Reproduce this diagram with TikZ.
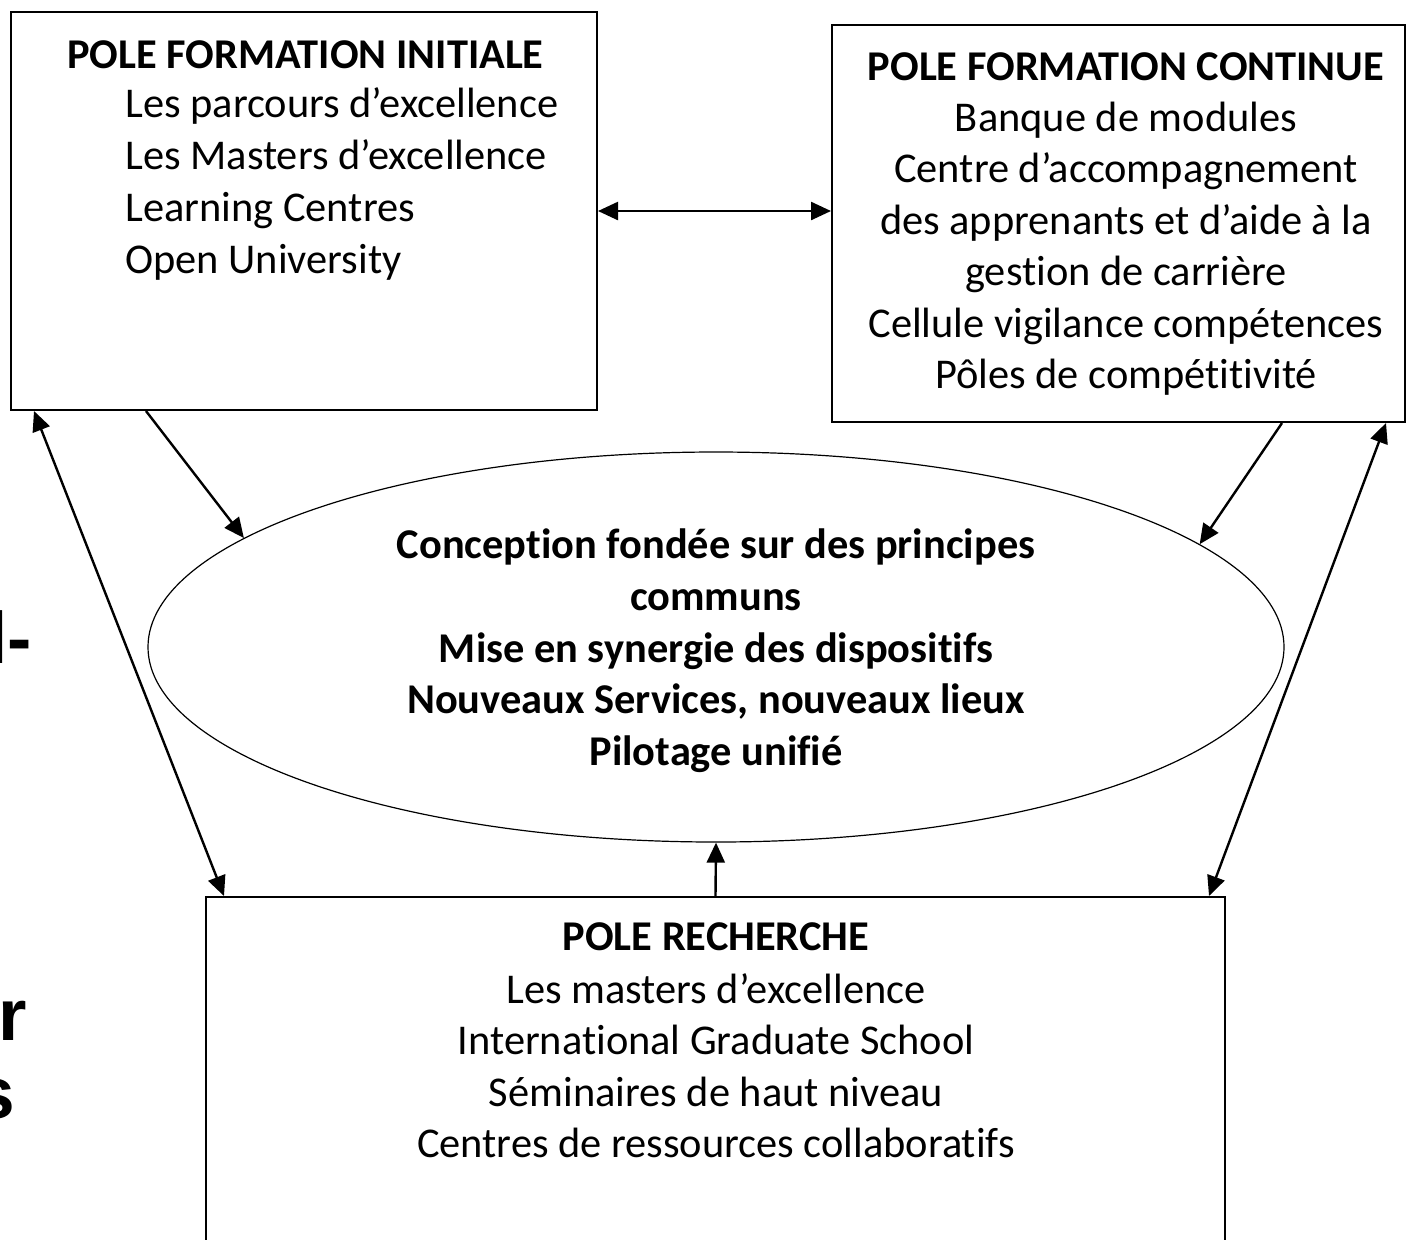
\documentclass[tikz,border=0pt]{standalone}
\usepackage{fontspec}
\setmainfont{Carlito}[Ligatures=NoCommon]
\newfontfamily\arialbd{Liberation Sans}[BoldFont={* Bold}]
\usetikzlibrary{arrows.meta,shapes.geometric}

\begin{document}
\begin{tikzpicture}[x=0.5pt, y=-0.5pt,
      every node/.style = {font=\fontsize{21.2pt}{26pt}\selectfont, inner sep=0pt},
      head/.style = {font=\fontsize{21.2pt}{26pt}\selectfont\bfseries},
      polebox/.style = {draw, line width=1pt, rectangle},
      hub/.style = {draw, line width=0.6pt, ellipse},
      line/.style = {line width=1.2pt, -{Triangle[length=10pt,width=9pt]}},
      biline/.style = {line width=1.2pt, {Triangle[length=10pt,width=9pt]}-{Triangle[length=10pt,width=9pt]}},
      bit/.style = {font=\arialbd\bfseries\fontsize{36.5pt}{40pt}\selectfont, anchor=base east}]
  \useasboundingbox (0,0) rectangle (1407,1239);

  % the three poles and the hub
  \node[polebox, minimum width=293pt, minimum height=199pt] (fi) at (304,211) {};
  \node[polebox, minimum width=286.5pt, minimum height=198.5pt] (fc) at (1118.5,223.5) {};
  \node[polebox, minimum width=509.5pt, minimum height=185pt] (rech) at (715.5,1082) {};
  \node[hub, minimum width=568pt, minimum height=195pt] (ell) at (716,647) {};

  % pole formation initiale
  \node[head, anchor=base] (fi0) at (305.5,68) {POLE FORMATION INITIALE};
  \node[anchor=base west] (fi1) at (125,117) {Les parcours d’excellence};
  \node[anchor=base west] (fi2) at (125,169) {Les Masters d’excellence};
  \node[anchor=base west] (fi3) at (125,221) {Learning Centres};
  \node[anchor=base west] (fi4) at (125,273) {Open University};

  % pole formation continue
  \node[head, anchor=base] (fc0) at (1126,80) {POLE FORMATION CONTINUE};
  \node[anchor=base] (fc1) at (1126,131.4) {Banque de modules};
  \node[anchor=base] (fc2) at (1126,182.8) {Centre d’accompagnement};
  \node[anchor=base] (fc3) at (1126,234.2) {des apprenants et d’aide à la};
  \node[anchor=base] (fc4) at (1126,285.6) {gestion de carrière};
  \node[anchor=base] (fc5) at (1126,337) {Cellule vigilance compétences};
  \node[anchor=base] (fc6) at (1126,388.4) {Pôles de compétitivité};

  % hub
  \begin{scope}[every node/.append style={head, anchor=base}]
    \node (el1) at (716,558) {Conception fondée sur des principes};
    \node (el2) at (716,610) {communs};
    \node (el3) at (716,662) {Mise en synergie des dispositifs};
    \node (el4) at (716,713) {Nouveaux Services, nouveaux lieux};
    \node (el5) at (716,765) {Pilotage unifié};
  \end{scope}

  % pole recherche
  \node[head, anchor=base] (re0) at (716,950) {POLE RECHERCHE};
  \node[anchor=base] (re1) at (716,1003) {Les masters d’excellence};
  \node[anchor=base] (re2) at (716,1054) {International Graduate School};
  \node[anchor=base] (re3) at (716,1106) {Séminaires de haut niveau};
  \node[anchor=base] (re4) at (716,1157) {Centres de ressources collaboratifs};

  % cut letters on the left edge
  \node[bit] (cut1) at (32,663) {l-};
  \node[bit] (cut2) at (27,1040) {r};
  \node[bit] (cut3) at (15,1118) {s};

  % links
  \draw[biline] (fi.east) -- (fi.east -| fc.west);
  \draw[line] ([xshift=68pt]fi.south west) -- (ell.167.4);
  \draw[line] ([xshift=225.5pt]fc.south west) -- (ell.12.3);
  \draw[biline] ([xshift=12pt]fi.south west) -- ([xshift=9.5pt]rech.north west);
  \draw[biline] ([xshift=-10pt]fc.south east) -- ([xshift=-8.5pt]rech.north east);
  \draw[line] (rech.north) -- (ell.south);
\end{tikzpicture}
\end{document}
